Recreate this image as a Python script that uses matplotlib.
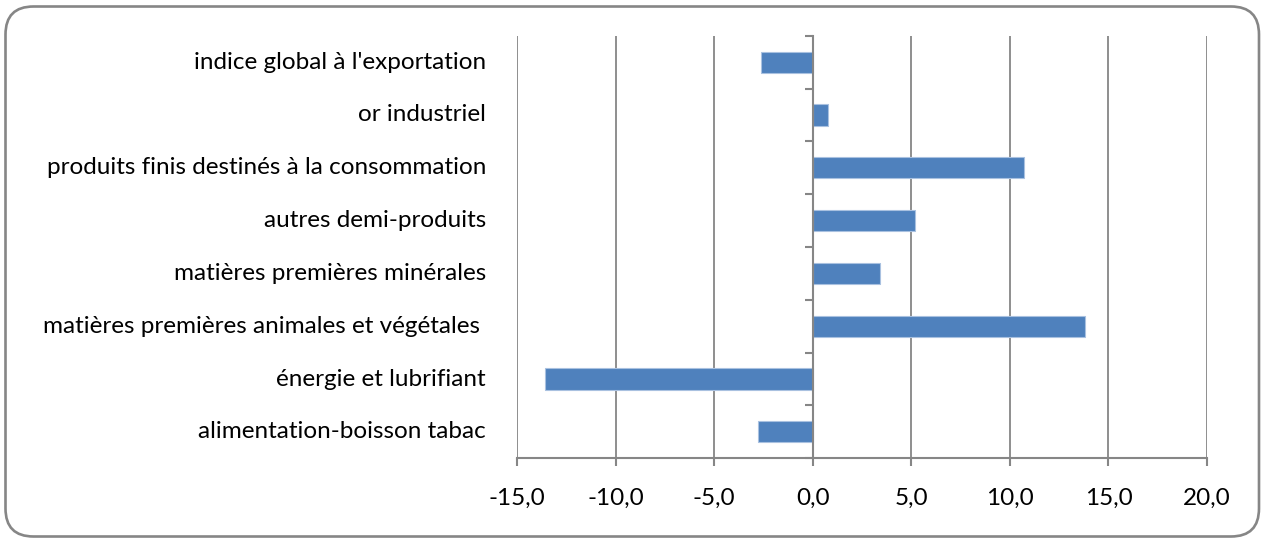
import matplotlib.pyplot as plt
from matplotlib.patches import FancyBboxPatch
from matplotlib.transforms import blended_transform_factory
import numpy as np

# categories from bottom to top
categories = [
    "alimentation-boisson tabac",
    "énergie et lubrifiant",
    "matières premières animales et végétales ",
    "matières premières minérales",
    "autres demi-produits",
    "produits finis destinés à la consommation",
    "or industriel",
    "indice global à l'exportation",
]
values = [-2.8, -13.6, 13.8, 3.4, 5.2, 10.7, 0.8, -2.6]
xticks = [-15, -10, -5, 0, 5, 10, 15, 20]

plt.rcParams['font.family'] = ['Lato', 'DejaVu Sans']
grey = '#868686'
W, H = 1261, 539

fig = plt.figure(figsize=(W / 100, H / 100), dpi=100)

# rounded chart border, drawn in pixel units on a background axes
bg = fig.add_axes([0, 0, 1, 1])
bg.set_xlim(0, W)
bg.set_ylim(0, H)
bg.axis('off')
bg.add_patch(FancyBboxPatch((5.5, 2.5), W - 7.5, H - 9,
                            boxstyle="round,pad=0,rounding_size=28",
                            fill=False, edgecolor=grey, linewidth=1.9))

ax = fig.add_axes([517 / W, 1 - 458.3 / H, 690 / W, (458.3 - 35.7) / H])
ax.patch.set_alpha(0)

y = np.arange(len(categories))
ax.barh(y, values, height=0.4, color='#4f81bd', edgecolor='#a9c1e0', linewidth=0.8, zorder=3)

ax.set_xlim(-15, 20)
ax.set_ylim(-0.5, len(categories) - 0.5)

ax.set_xticks(xticks)
ax.set_xticklabels([f"{v:.1f}".replace('.', ',') for v in xticks], fontsize=17.5)
ax.tick_params(axis='x', direction='out', length=6, width=1.5, color=grey, pad=15)
ax.grid(axis='x', color=grey, linewidth=1.3, zorder=1)

# category axis sits on x = 0, ticks between categories
ax.spines['left'].set_position(('data', 0))
ax.spines['left'].set_color(grey)
ax.spines['left'].set_linewidth(1.5)
ax.spines['left'].set_zorder(4)
ax.set_yticks(np.arange(-0.5, len(categories), 1.0))
ax.set_yticklabels([])
ax.tick_params(axis='y', direction='out', length=6, width=1.5, color=grey)

ax.spines['bottom'].set_color(grey)
ax.spines['bottom'].set_linewidth(1.5)
ax.spines['top'].set_visible(False)
ax.spines['right'].set_visible(False)

trans = blended_transform_factory(ax.transAxes, ax.transData)
for yi, lab in zip(y, categories):
    ax.text(-31 / 690, yi, lab, transform=trans, ha='right', va='center', fontsize=17.5)

fig.savefig('out.png', dpi=100)
